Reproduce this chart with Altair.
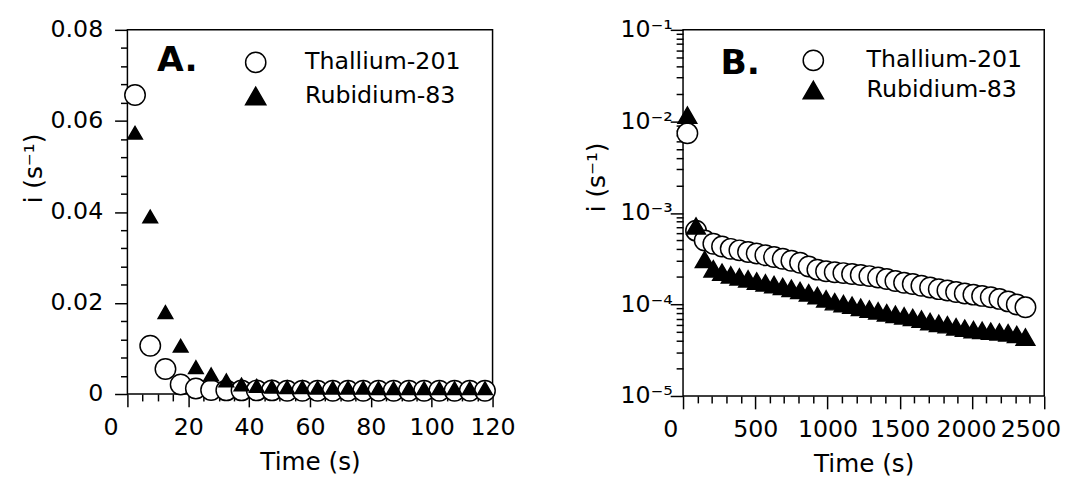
import altair as alt
import pandas as pd

SERIES = ["Thallium-201", "Rubidium-83"]
SIZE_KEYS = ["big", "small"]
FILLS = ["white", "black"]
STROKES = ["black", "black"]
SHAPES = ["circle", "triangle-up"]

# ---- Panel A (linear) ----
A_TIME = [2.5, 7.5, 12.5, 17.5, 22.5, 27.5, 32.5, 37.5, 42.5, 47.5, 52.5, 57.5,
          62.5, 67.5, 72.5, 77.5, 82.5, 87.5, 92.5, 97.5, 102.5, 107.5, 112.5, 117.5]
A_TL = [0.0657, 0.0106, 0.0055, 0.0021, 0.0012, 0.0009, 0.0008, 0.0008, 0.0008, 0.0008,
        0.0007, 0.0007, 0.0007, 0.0007, 0.0007, 0.0007, 0.0007, 0.0007, 0.0007, 0.0007,
        0.0007, 0.0007, 0.0007, 0.0007]
A_RB = [0.0574, 0.0390, 0.0180, 0.0106, 0.0059, 0.0043, 0.0030, 0.0021, 0.0018, 0.0016,
        0.0015, 0.0015, 0.0014, 0.0014, 0.0014, 0.0014, 0.0013, 0.0013, 0.0013, 0.0013,
        0.0013, 0.0013, 0.0013, 0.0013]

# ---- Panel B (log) ----
B_TIME = [30, 90, 150, 210, 270, 330, 390, 450, 510, 570,
          630, 690, 750, 810, 870, 930, 990, 1050, 1110, 1170,
          1230, 1290, 1350, 1410, 1470, 1530, 1590, 1650, 1710, 1770,
          1830, 1890, 1950, 2010, 2070, 2130, 2190, 2250, 2310, 2370]
B_TL = [7.4e-3, 6.4e-4, 5.0e-4, 4.6e-4, 4.3e-4, 4.05e-4, 3.9e-4, 3.75e-4, 3.6e-4, 3.45e-4,
        3.3e-4, 3.15e-4, 3.0e-4, 2.85e-4, 2.6e-4, 2.4e-4, 2.3e-4, 2.25e-4, 2.2e-4, 2.15e-4,
        2.1e-4, 2.04e-4, 1.97e-4, 1.9e-4, 1.8e-4, 1.73e-4, 1.67e-4, 1.6e-4, 1.53e-4, 1.47e-4,
        1.42e-4, 1.37e-4, 1.32e-4, 1.28e-4, 1.24e-4, 1.2e-4, 1.15e-4, 1.08e-4, 1.0e-4, 9.3e-5]
B_RB = [1.17e-2, 7.2e-4, 3.1e-4, 2.45e-4, 2.25e-4, 2.1e-4, 2.0e-4, 1.9e-4, 1.8e-4, 1.72e-4,
        1.65e-4, 1.57e-4, 1.5e-4, 1.42e-4, 1.34e-4, 1.25e-4, 1.15e-4, 1.07e-4, 1.02e-4, 9.8e-5,
        9.3e-5, 8.9e-5, 8.5e-5, 8.1e-5, 7.8e-5, 7.5e-5, 7.2e-5, 6.9e-5, 6.5e-5, 6.2e-5,
        6.0e-5, 5.7e-5, 5.5e-5, 5.3e-5, 5.2e-5, 5.1e-5, 5.0e-5, 4.9e-5, 4.7e-5, 4.4e-5]

# ---- ticks ----
A_X_TICKS = [0, 20, 40, 60, 80, 100, 120]
A_X_MINOR = [5, 10, 15, 25, 30, 35, 45, 50, 55, 65, 70, 75, 85, 90, 95, 105, 110, 115]
A_Y_TICKS = [0, 0.02, 0.04, 0.06, 0.08]
A_Y_LABELS = ["0", "0.02", "0.04", "0.06", "0.08"]
A_Y_MINOR = [0.004, 0.008, 0.012, 0.016, 0.024, 0.028, 0.032, 0.036,
             0.044, 0.048, 0.052, 0.056, 0.064, 0.068, 0.072, 0.076]
B_X_TICKS = [0, 500, 1000, 1500, 2000, 2500]
B_X_MINOR = [v for v in range(100, 2500, 100) if v % 500 != 0]
B_Y_TICKS = [1e-5, 1e-4, 1e-3, 1e-2, 1e-1]
B_Y_LABELS = ["10⁻⁵", "10⁻⁴", "10⁻³", "10⁻²", "10⁻¹"]
B_Y_MINOR = [k * 10.0 ** e for e in (-5, -4, -3, -2) for k in range(2, 10)]

FONT = "DejaVu Sans"


def make_df(t, tl, rb):
    return pd.DataFrame({
        "t": list(t) + list(t),
        "v": list(tl) + list(rb),
        "series": [SERIES[0]] * len(t) + [SERIES[1]] * len(t),
        "sz": [SIZE_KEYS[0]] * len(t) + [SIZE_KEYS[1]] * len(t),
    })


def js_list(items):
    return "[" + ",".join("'" + s + "'" for s in items) + "]"


def panel(df, xscale, yscale, xticks, xminor, yticks, yminor, ylabel_expr,
          x_label_offset, title_x, title_y, ylab_pad, sizes, legend_x, legend_y,
          leg_label_offset, leg_row_pad, letter, letter_x, letter_y, width, height):
    legend = alt.Legend(orient="none", legendX=legend_x, legendY=legend_y, title=None,
                        padding=0, labelFont=FONT, labelFontSize=24, labelColor="black",
                        symbolSize=420, symbolStrokeColor="black", symbolStrokeWidth=1.5,
                        labelOffset=leg_label_offset, rowPadding=leg_row_pad)
    main = alt.Chart(df).mark_point(filled=True, strokeWidth=1.5, opacity=1).encode(
        x=alt.X("t:Q", scale=xscale, axis=alt.Axis(
            orient="bottom", values=xticks, tickSize=13, format="d", labelPadding=9,
            labelFlush=False, labelOverlap=False, title="Time (s)", titlePadding=11,
            labelOffset=x_label_offset)),
        y=alt.Y("v:Q", scale=yscale, axis=alt.Axis(
            orient="left", values=yticks, tickSize=13, labelPadding=ylab_pad,
            labelFlush=False, labelOverlap=False, labelExpr=ylabel_expr,
            title="i (s⁻¹)", titleX=title_x, titleY=title_y, titleAngle=270,
            titleBaseline="middle", titleAlign="center")),
        fill=alt.Fill("series:N", scale=alt.Scale(domain=SERIES, range=FILLS), legend=legend),
        stroke=alt.Stroke("series:N", scale=alt.Scale(domain=SERIES, range=STROKES), legend=legend),
        shape=alt.Shape("series:N", scale=alt.Scale(domain=SERIES, range=SHAPES), legend=legend),
        size=alt.Size("sz:N", scale=alt.Scale(domain=SIZE_KEYS, range=sizes), legend=None),
    )
    minor = alt.Chart(df).mark_point(opacity=0).encode(
        x=alt.X("t:Q", scale=xscale, axis=alt.Axis(
            orient="bottom", values=xminor, tickSize=7, labels=False, title=None)),
        y=alt.Y("v:Q", scale=yscale, axis=alt.Axis(
            orient="left", values=yminor, tickSize=7, labels=False, title=None)),
    )
    text = alt.Chart(pd.DataFrame({"label": [letter]})).mark_text(
        font=FONT, fontSize=35, fontWeight="bold", align="left", baseline="alphabetic",
        color="black").encode(text="label:N", x=alt.value(letter_x), y=alt.value(letter_y))
    return alt.layer(main, minor, text).resolve_axis(x="independent", y="independent").properties(
        width=width, height=height)


dfA = make_df(A_TIME, A_TL, A_RB)
dfB = make_df(B_TIME, B_TL, B_RB)

A_XOFF = {"condition": {"test": "datum.value === 0", "value": -17}, "value": 0}
B_XOFF = {"condition": [{"test": "datum.value === 0", "value": -13},
                        {"test": "datum.value === 2000", "value": -6},
                        {"test": "datum.value === 2500", "value": -14}], "value": 0}

chartA = panel(
    dfA,
    alt.Scale(domain=[0, 120], nice=False, zero=False),
    alt.Scale(domain=[0, 0.08], nice=False, zero=False),
    A_X_TICKS, A_X_MINOR, A_Y_TICKS, A_Y_MINOR,
    js_list(A_Y_LABELS) + "[round(datum.value / 0.02)]",
    A_XOFF, -95, 140, 12, [430, 220], 118, 21, 38, 8, "A.", 30, 42, 370, 369)

chartB = panel(
    dfB,
    alt.Scale(domain=[0, 2500], nice=False, zero=False),
    alt.Scale(type="log", domain=[1e-5, 1e-1], nice=False),
    B_X_TICKS, B_X_MINOR, B_Y_TICKS, B_Y_MINOR,
    js_list(B_Y_LABELS) + "[round(log(datum.value) / LN10) + 5]",
    B_XOFF, -88, 149, -2, [430, 360], 120, 19, 42, 4, "B.", 38, 45, 366, 371)

chart = alt.hconcat(chartA, chartB, spacing=68).resolve_scale(
    x="independent", y="independent", fill="independent", stroke="independent",
    shape="independent", size="independent"
).configure_axis(
    labelFont=FONT, labelFontSize=24, labelColor="black",
    titleFont=FONT, titleFontSize=25, titleFontWeight="normal", titleColor="black",
    tickColor="black", tickWidth=1.5, domain=False, grid=False,
).configure_view(stroke="black", strokeWidth=1.5).properties(
    padding={"left": 13, "top": 6, "right": 0, "bottom": 0}, background="white")

chart.save("out.html", embed_options={"renderer": "svg", "actions": False})
